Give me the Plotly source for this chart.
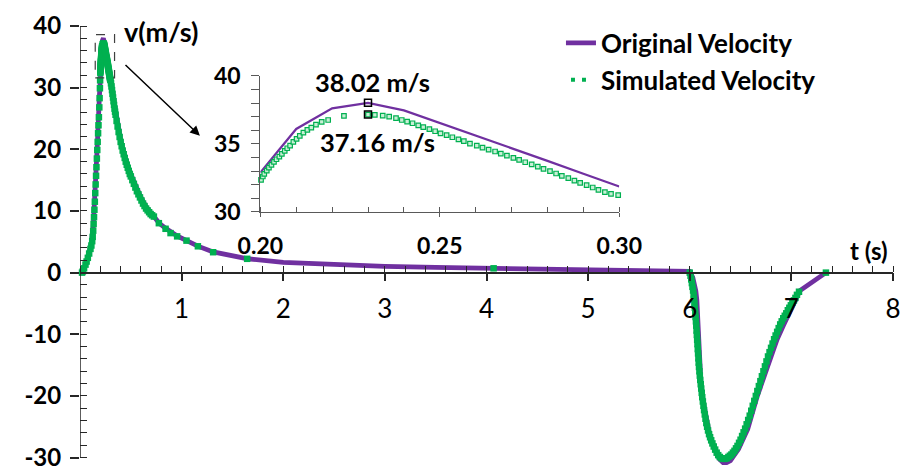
import plotly.graph_objects as go

# ---------------- data ----------------
# Original velocity (main chart)
orig_rise_t = [0.0, 0.03, 0.06, 0.09, 0.11, 0.13, 0.15, 0.17, 0.19]
orig_rise_v = [0.0, 0.3, 1.5, 3.0, 4.6, 7.4, 13.0, 20.5, 28.3]

# zoomed window 0.20 - 0.30 s (inset)
zoom_t = [0.20, 0.21, 0.22, 0.23, 0.24, 0.25, 0.26, 0.27, 0.28, 0.29, 0.30]
zoom_orig_v = [32.89, 36.10, 37.62, 38.02, 37.47, 36.55, 35.60, 34.70, 33.75, 32.80, 31.86]

orig_decay_t = [0.32, 0.34, 0.36, 0.38, 0.40, 0.42, 0.45, 0.48, 0.52, 0.56, 0.60, 0.65, 0.70,
                0.78, 0.85, 0.90, 0.96, 1.05, 1.16, 1.31, 1.50, 1.65, 2.0, 2.5, 3.0, 3.5,
                4.07, 4.5, 5.0, 5.5, 6.0]
orig_decay_v = [29.6, 27.3, 25.2, 23.3, 21.6, 20.2, 18.4, 16.9, 15.2, 13.6, 12.2, 10.7, 9.6,
                8.0, 7.1, 6.45, 5.9, 5.2, 4.3, 3.35, 2.65, 2.25, 1.65, 1.25, 1.0, 0.85,
                0.7, 0.55, 0.45, 0.35, 0.2]

orig_neg_t = [6.03, 6.05, 6.06, 6.07, 6.075, 6.08, 6.09, 6.11, 6.13, 6.155, 6.19, 6.22, 6.26,
              6.29, 6.34, 6.40, 6.48, 6.57, 6.665, 6.73, 6.80, 6.86, 6.92, 6.98, 7.03, 7.085, 7.34]
orig_neg_v = [-0.8, -1.9, -3.0, -4.5, -6.0, -8.3, -12.6, -17.9, -20.6, -23.3, -25.8, -27.5, -29.3,
              -30.2, -31.0, -30.5, -28.6, -25.4, -20.0, -16.8, -13.4, -10.8, -8.6, -6.5, -4.7, -2.9, 0.0]

# Simulated velocity (main chart)
sim_rise_t = [0.020, 0.028, 0.040, 0.054, 0.065, 0.077, 0.090, 0.103, 0.112, 0.120, 0.125,
              0.130, 0.134, 0.138, 0.142, 0.146, 0.150, 0.154, 0.158, 0.162, 0.166, 0.170,
              0.174, 0.178, 0.182, 0.186, 0.190, 0.193, 0.196, 0.198]
sim_rise_v = [0.0, 0.2, 0.7, 1.3, 1.8, 2.4, 3.1, 3.85, 4.4, 5.1, 5.8,
              6.8, 7.9, 9.0, 10.2, 11.5, 12.9, 14.3, 15.7, 17.1, 18.5, 19.9,
              21.2, 22.6, 23.9, 25.2, 26.8, 28.3, 29.9, 31.2]

zoom_sim_t = [0.2002, 0.2007, 0.2011, 0.2018, 0.2024, 0.2031, 0.2038, 0.2045, 0.2053, 0.2060,
              0.2068, 0.2075, 0.2083, 0.2092, 0.2101, 0.2110, 0.2120, 0.2131, 0.2142, 0.2155,
              0.2171, 0.2189, 0.2233, 0.2300, 0.2319, 0.2341, 0.2359, 0.2378, 0.2394, 0.2409,
              0.2424, 0.2440, 0.2454, 0.2471, 0.2487, 0.2502, 0.2519, 0.2535, 0.2552, 0.2567,
              0.2584, 0.2603, 0.2619, 0.2636, 0.2654, 0.2670, 0.2687, 0.2705, 0.2721, 0.2738,
              0.2756, 0.2773, 0.2789, 0.2807, 0.2824, 0.2840, 0.2858, 0.2875, 0.2891, 0.2909,
              0.2926, 0.2942, 0.2960, 0.2977, 0.2997]
zoom_sim_v = [32.35, 32.60, 32.79, 33.04, 33.26, 33.46, 33.68, 33.87, 34.07, 34.26,
              34.49, 34.68, 34.88, 35.15, 35.37, 35.59, 35.83, 36.03, 36.20, 36.42,
              36.62, 36.76, 37.06, 37.16, 37.13, 37.08, 37.01, 36.89, 36.76, 36.64,
              36.52, 36.37, 36.23, 36.08, 35.93, 35.78, 35.64, 35.49, 35.34, 35.20,
              35.02, 34.88, 34.73, 34.58, 34.44, 34.29, 34.14, 33.97, 33.82, 33.65,
              33.50, 33.33, 33.16, 32.99, 32.82, 32.65, 32.48, 32.30, 32.13, 31.96,
              31.79, 31.62, 31.45, 31.32, 31.23]

sim_decay_t = [0.305, 0.31, 0.315, 0.32, 0.325, 0.33, 0.335, 0.34, 0.345, 0.35,
               0.36, 0.37, 0.38, 0.39, 0.40, 0.41, 0.42, 0.43, 0.44, 0.45,
               0.46, 0.47, 0.48, 0.49, 0.50, 0.515, 0.53, 0.545, 0.56, 0.575,
               0.59, 0.605, 0.62, 0.635, 0.65, 0.665, 0.68, 0.695, 0.71, 0.727,
               0.776, 0.842, 0.891, 0.956, 1.048, 1.160, 1.310, 1.645, 4.070]
sim_decay_v = [30.7, 30.2, 29.6, 29.0, 28.4, 27.8, 27.2, 26.6, 26.1, 25.6,
               24.6, 23.7, 22.8, 22.0, 21.2, 20.5, 19.8, 19.2, 18.6, 18.0,
               17.5, 17.0, 16.5, 16.0, 15.6, 15.0, 14.4, 13.8, 13.2, 12.7,
               12.2, 11.7, 11.2, 10.8, 10.4, 10.1, 9.8, 9.5, 9.3, 9.09,
               8.02, 7.11, 6.41, 5.88, 5.19, 4.27, 3.31, 2.24, 0.70]

sim_neg_t = [6.000, 6.008, 6.015, 6.021, 6.027, 6.033, 6.038, 6.042, 6.046, 6.050,
             6.054, 6.058, 6.061, 6.064, 6.067, 6.070, 6.073, 6.076, 6.079, 6.082,
             6.085, 6.088, 6.091, 6.095, 6.099, 6.103, 6.108, 6.113, 6.118, 6.123,
             6.129, 6.135, 6.141, 6.148, 6.155, 6.163, 6.171, 6.180, 6.190, 6.200,
             6.211, 6.223, 6.236, 6.250, 6.265, 6.280, 6.296, 6.313, 6.330, 6.347,
             6.364, 6.380, 6.395, 6.410, 6.425, 6.440, 6.455, 6.470, 6.485, 6.500,
             6.515, 6.530, 6.545, 6.560, 6.575, 6.590, 6.605, 6.620, 6.635, 6.650,
             6.665, 6.680, 6.695, 6.710, 6.725, 6.740, 6.755, 6.770, 6.785, 6.800,
             6.815, 6.830, 6.845, 6.860, 6.875, 6.890, 6.905, 6.920, 6.935, 6.950,
             6.965, 6.980, 6.995, 7.010, 7.025, 7.040, 7.055, 7.075, 7.340]
sim_neg_v = [0.0, -0.5, -1.1, -1.7, -2.3, -2.9, -3.6, -4.3, -5.0, -5.7,
             -6.5, -7.2, -7.9, -8.6, -9.4, -10.1, -10.9, -11.6, -12.4, -13.1,
             -13.9, -14.6, -15.3, -16.0, -16.7, -17.4, -18.1, -18.8, -19.5, -20.2,
             -20.9, -21.6, -22.3, -23.0, -23.7, -24.4, -25.0, -25.6, -26.2, -26.7,
             -27.2, -27.7, -28.2, -28.7, -29.2, -29.6, -29.9, -30.1, -30.2, -30.2,
             -30.1, -29.9, -29.7, -29.5, -29.2, -28.9, -28.5, -28.1, -27.6, -27.1,
             -26.5, -25.9, -25.3, -24.6, -23.9, -23.2, -22.4, -21.6, -20.8, -20.0,
             -19.2, -18.4, -17.6, -16.8, -16.0, -15.2, -14.4, -13.6, -12.9, -12.2,
             -11.5, -10.8, -10.2, -9.6, -9.0, -8.4, -7.9, -7.4, -7.0, -6.6,
             -6.1, -5.7, -5.3, -4.9, -4.5, -4.1, -3.6, -3.1, 0.0]

# peak values marked in the inset
peak_t = [0.23, 0.23]
peak_v = [38.02, 37.16]

# ticks
x_ticks = [1, 2, 3, 4, 5, 6, 7, 8]
y_ticks = [-30, -20, -10, 0, 10, 20, 30, 40]
inset_x_ticks = [0.20, 0.25, 0.30]
inset_y_ticks = [30, 35, 40]

# zoom box drawn on the main chart
box_t = [0.15, 0.34]
box_v = [31.6, 38.6]

# ---------------- styling ----------------
PURPLE = '#7030A0'
GREEN = '#00B050'
AX = '#262626'
FONT = 'Lato'

main_orig_t = orig_rise_t + zoom_t + orig_decay_t + orig_neg_t
main_orig_v = orig_rise_v + zoom_orig_v + orig_decay_v + orig_neg_v
main_sim_t = sim_rise_t + zoom_sim_t + sim_decay_t + sim_neg_t
main_sim_v = sim_rise_v + zoom_sim_v + sim_decay_v + sim_neg_v

fig = go.Figure()

fig.add_trace(go.Scatter(x=main_orig_t, y=main_orig_v, mode='lines',
                         line=dict(color=PURPLE, width=4.8), name='Original Velocity',
                         legend='legend', xaxis='x', yaxis='y'))
fig.add_trace(go.Scatter(x=main_sim_t, y=main_sim_v, mode='markers',
                         marker=dict(symbol='square', size=6.5, color=GREEN, line=dict(width=0)),
                         showlegend=False, cliponaxis=False, xaxis='x', yaxis='y'))
# legend entry for simulated series (dotted style as in the reference)
fig.add_trace(go.Scatter(x=[None], y=[None], mode='lines',
                         line=dict(color=GREEN, width=4, dash='0px,5px,4px,7px,4px,10px'),
                         name='Simulated Velocity', legend='legend2', xaxis='x', yaxis='y'))

# inset traces
fig.add_trace(go.Scatter(x=zoom_t, y=zoom_orig_v, mode='lines', xaxis='x2', yaxis='y2',
                         line=dict(color=PURPLE, width=2.2), showlegend=False))
fig.add_trace(go.Scatter(x=zoom_sim_t, y=zoom_sim_v, mode='markers', xaxis='x2', yaxis='y2',
                         marker=dict(symbol='square', size=4.5, color='#c9efd6',
                                     line=dict(color=GREEN, width=1.2)),
                         showlegend=False, cliponaxis=False))
fig.add_trace(go.Scatter(x=peak_t, y=peak_v, mode='markers', xaxis='x2', yaxis='y2',
                         marker=dict(symbol='square-open', size=7, color='black',
                                     line=dict(color='black', width=1.5)),
                         showlegend=False, cliponaxis=False))

y_lo = -31.2
xpos = (0 - y_lo) / (y_ticks[-1] - y_lo)

fig.update_layout(
    width=902, height=474,
    margin=dict(l=80, r=9.2, t=26, b=8.6),
    paper_bgcolor='white', plot_bgcolor='white',
    font=dict(family=FONT, color='black', size=22),
    xaxis=dict(domain=[0, 1], range=[0, 8], anchor='free', position=xpos, automargin=False,
               showline=True, linecolor=AX, linewidth=1.5, showgrid=False, zeroline=False,
               ticks='outside', ticklen=8, tickwidth=1.5, tickcolor=AX,
               tickmode='array', tickvals=x_ticks, ticktext=[str(v) for v in x_ticks],
               tickfont=dict(size=26, family=FONT), ticklabelstandoff=5,
               ticklabeloverflow='allow',
               minor=dict(ticks='inside', ticklen=6, tickwidth=1.2, tickcolor=AX,
                          tickmode='linear', tick0=0, dtick=0.2)),
    yaxis=dict(domain=[0, 1], range=[y_lo, y_ticks[-1]], anchor='x', automargin=False,
               showline=False, showgrid=False, zeroline=False,
               ticks='outside', ticklen=9, tickwidth=1.5, tickcolor=AX,
               tickmode='array', tickvals=y_ticks, ticktext=[str(v) for v in y_ticks],
               tickfont=dict(size=24, family=FONT, weight='bold'), ticklabelstandoff=4,
               ticklabeloverflow='allow',
               minor=dict(ticks='inside', ticklen=7, tickwidth=1.2, tickcolor=AX,
                          tickmode='linear', tick0=0, dtick=2)),
    xaxis2=dict(domain=[0.2218, 0.6633], range=[0.2, 0.3], anchor='y2', automargin=False,
                showline=True, linecolor='#595959', linewidth=1.2, showgrid=False, zeroline=False,
                ticks='outside', ticklen=4, tickwidth=1.2, tickcolor='#595959',
                tickmode='array', tickvals=inset_x_ticks,
                ticktext=['%.2f' % v for v in inset_x_ticks],
                tickfont=dict(size=23, family=FONT, weight='bold'), ticklabelstandoff=9,
                ticklabeloverflow='allow',
                minor=dict(ticks='inside', ticklen=5, tickwidth=1, tickcolor='#595959',
                           tickmode='linear', tick0=0.2, dtick=0.01)),
    yaxis2=dict(domain=[0.5767, 0.8862], range=[30, 40], anchor='x2', automargin=False,
                showline=True, linecolor='#595959', linewidth=1.2, showgrid=False, zeroline=False,
                ticks='outside', ticklen=8, tickwidth=1.2, tickcolor='#595959',
                tickmode='array', tickvals=inset_y_ticks,
                ticktext=[str(v) for v in inset_y_ticks],
                tickfont=dict(size=23, family=FONT, weight='bold'), ticklabelstandoff=6,
                ticklabeloverflow='allow',
                minor=dict(ticks='outside', ticklen=8, tickwidth=1, tickcolor='#595959',
                           tickmode='linear', tick0=30, dtick=1)),
    legend=dict(x=0.5916, y=0.9613, xanchor='left', yanchor='middle',
                bgcolor='rgba(0,0,0,0)', borderwidth=0,
                font=dict(size=26, family=FONT, weight='bold', color='black')),
    legend2=dict(x=0.5916, y=0.8771, xanchor='left', yanchor='middle',
                 bgcolor='rgba(0,0,0,0)', borderwidth=0,
                 font=dict(size=26, family=FONT, weight='bold', color='black')),
    shapes=[
        dict(type='line', xref='x', yref='y', x0=0, x1=0, y0=y_ticks[0], y1=y_ticks[-1],
             line=dict(color=AX, width=1.5), layer='above'),
        dict(type='rect', xref='x', yref='y', x0=box_t[0], x1=box_t[1], y0=box_v[0], y1=box_v[1],
             line=dict(color='#404040', width=1.2, dash='dash'), layer='above'),
    ],
    annotations=[
        dict(text='v(m/s)', xref='paper', yref='paper', x=0.0513, y=0.9864,
             xanchor='left', yanchor='middle', showarrow=False,
             font=dict(size=27, family=FONT, weight='bold')),
        dict(text='t (s)', xref='paper', yref='paper', x=0.9705, y=0.488,
             xanchor='center', yanchor='middle', showarrow=False,
             font=dict(size=24, family=FONT, weight='bold')),
        dict(text='', xref='x', yref='y', x=1.18, y=22.2, axref='x', ayref='y',
             ax=0.433, ay=33.9, showarrow=True, arrowhead=2, arrowsize=1.3,
             arrowwidth=1.5, arrowcolor='black'),
        dict(text='%.2f m/s' % peak_v[0], xref='x2', yref='y2', x=peak_t[0], y=peak_v[0],
             xanchor='center', yanchor='middle', xshift=4, yshift=21, showarrow=False,
             font=dict(size=25.5, family=FONT, weight='bold')),
        dict(text='%.2f m/s' % peak_v[1], xref='x2', yref='y2', x=peak_t[1], y=peak_v[1],
             xanchor='center', yanchor='middle', xshift=9, yshift=-27, showarrow=False,
             font=dict(size=25.5, family=FONT, weight='bold')),
    ],
)

# remove the browser's default 8px body margin so the figure fills the 902x474 window exactly
fig.write_html('out.html', config={'displayModeBar': False},
               post_script="document.body.style.margin='0px';")
